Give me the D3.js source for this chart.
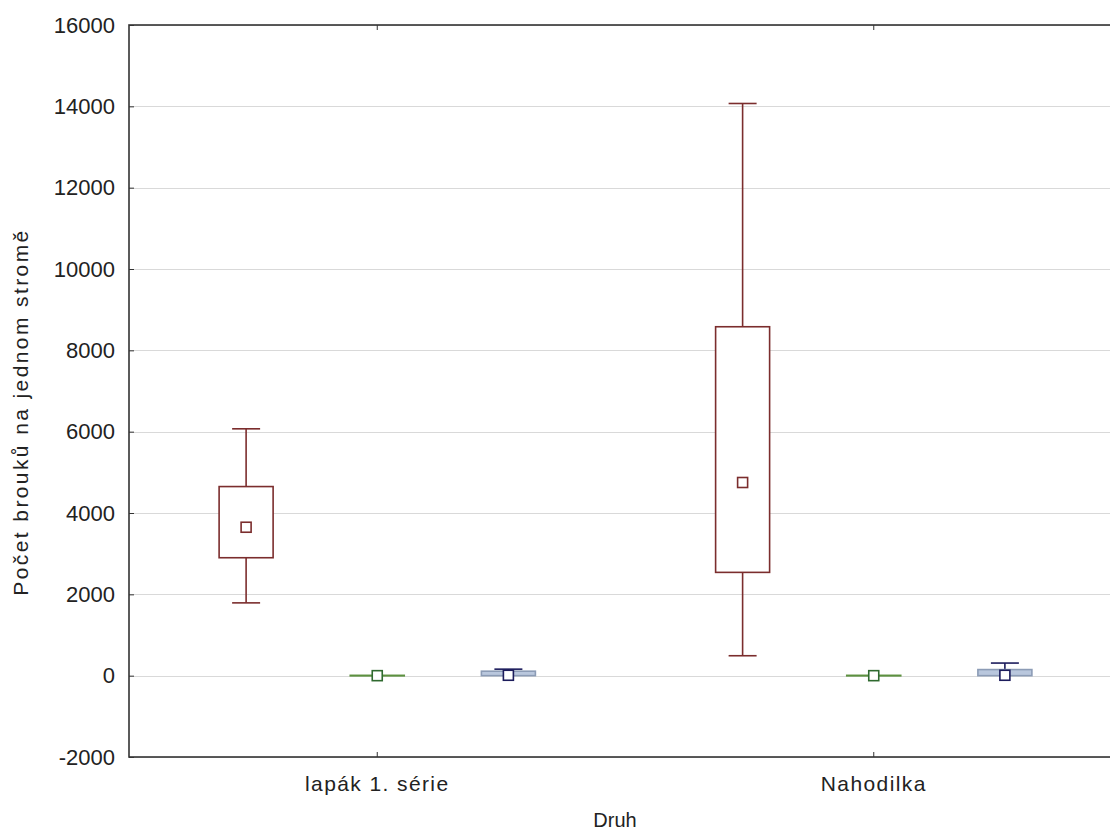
<!DOCTYPE html>
<html>
<head>
<meta charset="utf-8">
<script src="https://cdn.jsdelivr.net/npm/d3@7"></script>
<style>
  body { margin: 0; background: #fff; }
  text { font-family: "Liberation Sans", Arial, sans-serif; fill: #222; }
</style>
</head>
<body>
<div class="vis-boxplot"></div>
<script>
// categories and series
const categories = ['lapák 1. série', 'Nahodilka'];
const series = ['a', 'b', 'c'];
const yTicks = [-2000, 0, 2000, 4000, 6000, 8000, 10000, 12000, 14000, 16000];

// values per series, one entry per category
const means = { a: [3650, 4750], b: [0, 0], c: [10, 10] };
const q1 = { a: [2900, 2540], b: [0, 0], c: [0, 0] };
const q3 = { a: [4650, 8580], b: [8, 8], c: [110, 150] };
const lows = { a: [1790, 490], b: [0, 0], c: [0, 0] };
const highs = { a: [6070, 14070], b: [8, 8], c: [160, 310] };

const styles = {
  a: { box: '#7b2d2d', fill: '#ffffff', whisker: '#7b2d2d', mark: '#7b2d2d' },
  b: { box: '#5d9140', fill: '#ffffff', whisker: '#5d9140', mark: '#2f6a2f' },
  c: { box: '#8c9cb6', fill: '#b9c7dd', whisker: '#1c1c5c', mark: '#1c1c5c' },
};

const W = 1110, H = 836;
const margin = { top: 25, right: -12, bottom: 79, left: 129 };
const width = W - margin.left - margin.right;
const height = H - margin.top - margin.bottom;

const svg = d3.select('.vis-boxplot')
  .append('svg')
  .attr('width', W)
  .attr('height', H);

const g = svg.append('g')
  .attr('transform', `translate(${margin.left},${margin.top})`);

const x = d3.scaleBand().domain(categories).range([0, width]);
const xs = d3.scalePoint().domain(series).range([0, x.bandwidth()]).padding(0.893);
const y = d3.scaleLinear().domain([-2000, 16000]).range([height, 0]);

const boxW = 54, capW = 28, markS = 10;

// grid
g.append('g')
  .selectAll('line')
  .data(yTicks)
  .enter()
  .append('line')
  .attr('x1', 0)
  .attr('x2', width)
  .attr('y1', (d) => Math.round(y(d)) + 0.5)
  .attr('y2', (d) => Math.round(y(d)) + 0.5)
  .attr('stroke', '#d9d9d9')
  .attr('stroke-width', 1.2);

// boxes
const items = [];
series.forEach((s) => {
  categories.forEach((c, i) => {
    items.push({
      s, c, mean: means[s][i], q1: q1[s][i], q3: q3[s][i], lo: lows[s][i], hi: highs[s][i],
    });
  });
});

const grp = g.selectAll('.box')
  .data(items)
  .enter()
  .append('g')
  .attr('class', 'box')
  .attr('transform', (d) => `translate(${x(d.c) + xs(d.s)},0)`);

grp.append('line')
  .attr('x1', 0).attr('x2', 0)
  .attr('y1', (d) => y(d.hi))
  .attr('y2', (d) => y(d.lo))
  .attr('stroke', (d) => styles[d.s].whisker)
  .attr('stroke-width', 1.6);

grp.append('line')
  .attr('x1', -capW / 2).attr('x2', capW / 2)
  .attr('y1', (d) => y(d.hi))
  .attr('y2', (d) => y(d.hi))
  .attr('stroke', (d) => styles[d.s].whisker)
  .attr('stroke-width', 1.6)
  .attr('display', (d) => (d.hi > d.q3 ? null : 'none'));

grp.append('line')
  .attr('x1', -capW / 2).attr('x2', capW / 2)
  .attr('y1', (d) => y(d.lo))
  .attr('y2', (d) => y(d.lo))
  .attr('stroke', (d) => styles[d.s].whisker)
  .attr('stroke-width', 1.6)
  .attr('display', (d) => (d.lo < d.q1 ? null : 'none'));

grp.append('rect')
  .attr('x', -boxW / 2)
  .attr('width', boxW)
  .attr('y', (d) => y(d.q3))
  .attr('height', (d) => Math.max(0.5, y(d.q1) - y(d.q3)))
  .attr('fill', (d) => styles[d.s].fill)
  .attr('stroke', (d) => styles[d.s].box)
  .attr('stroke-width', 1.6);

grp.append('rect')
  .attr('x', -markS / 2)
  .attr('y', (d) => y(d.mean) - markS / 2)
  .attr('width', markS)
  .attr('height', markS)
  .attr('fill', '#fff')
  .attr('stroke', (d) => styles[d.s].mark)
  .attr('stroke-width', 1.6);

// frame
g.append('rect')
  .attr('x', 0).attr('y', 0)
  .attr('width', width).attr('height', height)
  .attr('fill', 'none')
  .attr('stroke', '#333')
  .attr('stroke-width', 1.6);

// axes
const yAxis = g.append('g')
  .call(d3.axisLeft(y).tickValues(yTicks).tickSize(-5).tickPadding(14).tickFormat((d) => String(d)));
yAxis.select('.domain').remove();
yAxis.selectAll('line').attr('stroke', '#333');
yAxis.selectAll('text').style('font-size', '22px').attr('fill', '#222');

const xAxis = g.append('g')
  .attr('transform', `translate(0,${height})`)
  .call(d3.axisBottom(x).tickSize(-5).tickPadding(19));
xAxis.select('.domain').remove();
xAxis.selectAll('line').attr('stroke', '#333');
xAxis.selectAll('text')
  .style('font-size', '21px')
  .style('letter-spacing', '1.4px')
  .attr('fill', '#222');

const xTop = g.append('g')
  .call(d3.axisTop(x).tickSize(-5).tickFormat(''));
xTop.select('.domain').remove();
xTop.selectAll('line').attr('stroke', '#333');

svg.append('text')
  .attr('x', 615)
  .attr('y', 827)
  .attr('text-anchor', 'middle')
  .style('font-size', '20px')
  .text('Druh');

svg.append('text')
  .attr('transform', 'translate(28,412) rotate(-90)')
  .attr('text-anchor', 'middle')
  .style('font-size', '21px')
  .style('letter-spacing', '2.4px')
  .text('Počet brouků na jednom stromě');
</script>
</body>
</html>
